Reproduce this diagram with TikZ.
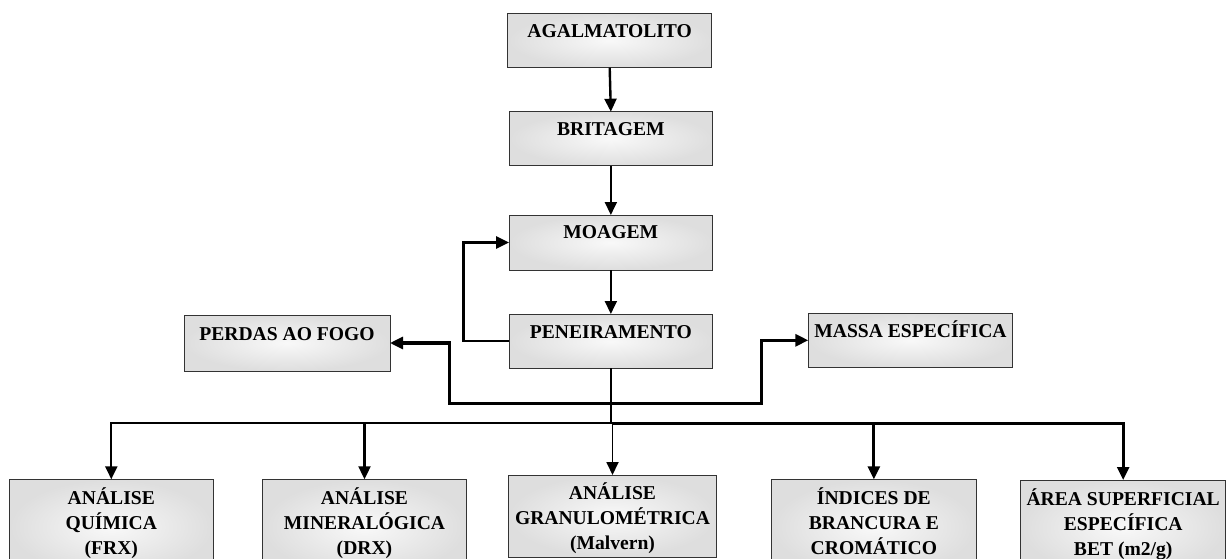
\documentclass[tikz,border=0pt]{standalone}
\usepackage{fontspec}
\setmainfont{Liberation Serif}
\usetikzlibrary{arrows.meta}
\newcommand\bxt[4]{\parbox[c][#2pt][t]{#1pt}{\centering\fontsize{19.6}{25}\selectfont\bfseries\rule{0pt}{#3pt}#4}}
\begin{document}
\begin{tikzpicture}[x=1pt,y=-1pt,
  bx/.style={draw=black!80, line width=1pt, inner color=gray!5, outer color=gray!26,
             inner sep=0pt, outer sep=0pt, anchor=north west},
  ar/.style={line width=#1, -{Triangle[length=13pt,width=12pt]}},
  ln/.style={line width=#1},
  dbl/.style={line width=#1, {Triangle[length=13pt,width=12pt]}-{Triangle[length=13pt,width=12pt]}}]
\path[use as bounding box, fill=white] (0,0) rectangle (1229,559);

% column boxes
\node[bx] (agal) at (507.7,13.3) {\bxt{204}{54.4}{24}{AGALMATOLITO}};
\node[bx] (brit) at (509,111.7) {\bxt{203.7}{54.3}{23.6}{BRITAGEM}};
\node[bx] (moag) at (509,215) {\bxt{203.7}{55}{23.3}{MOAGEM}};
\node[bx] (pene) at (509,314) {\bxt{203.7}{54.3}{24}{PENEIRAMENTO}};
\node[bx] (perd) at (184,315) {\bxt{206}{56}{25.6}{PERDAS AO FOGO}};
\node[bx] (mass) at (808.3,313.3) {\bxt{204.4}{54}{24}{MASSA ESPECÍFICA}};

% bottom boxes
\node[bx] (quim) at (9.3,479.3) {\bxt{204}{95}{25.3}{ANÁLISE\\QUÍMICA\\(FRX)}};
\node[bx] (mine) at (262.3,479.3) {\bxt{204.4}{95}{25.3}{ANÁLISE\\MINERALÓGICA\\(DRX)}};
\node[bx] (gran) at (508.3,475) {\bxt{208.4}{82}{24.6}{ANÁLISE\\GRANULOMÉTRICA\\(Malvern)}};
\node[bx] (indi) at (771.5,479.3) {\bxt{204.7}{95}{25.3}{ÍNDICES DE\\BRANCURA E\\CROMÁTICO}};
\node[bx] (area) at (1020.7,480) {\bxt{205}{95}{25.6}{ÁREA SUPERFICIAL\\ESPECÍFICA\\BET (m2/g)}};

% helper coordinates
\coordinate (bus) at (612,423.3);
\coordinate (lpL) at (449.3,403.3);
\coordinate (lpR) at (761.7,403.3);

% main column
\draw[ar=2.4] (agal.south) -- (brit.north);
\draw[ar=1.9] (brit.south) -- (moag.north);
\draw[ar=1.9] (moag.south) -- (pene.north);
\draw[ar=2.6] (pene.west) -- ++(-45.3,0) |- (moag.west);

% perdas / massa loop
\draw[dbl=3.1] (perd.east) -| (lpL) -- (lpR) |- (mass.west);

% trunk and bus
\draw[ln=2.1] (pene.south) -- (pene.south |- bus);
\draw[ar=2.2] (gran.north |- bus) -| (quim.north);
\draw[ar=2.1] (mine.north |- bus) -- (mine.north);
\draw[ar=1.8] (gran.north |- bus) -- (gran.north);
\draw[ln=3.3] (gran.north |- bus) -- (indi.north |- bus);
\draw[ar=2.8] (indi.north |- bus) -- (indi.north);
\draw[ar=2.6] (indi.north |- bus) -| (area.north);
\end{tikzpicture}
\end{document}
